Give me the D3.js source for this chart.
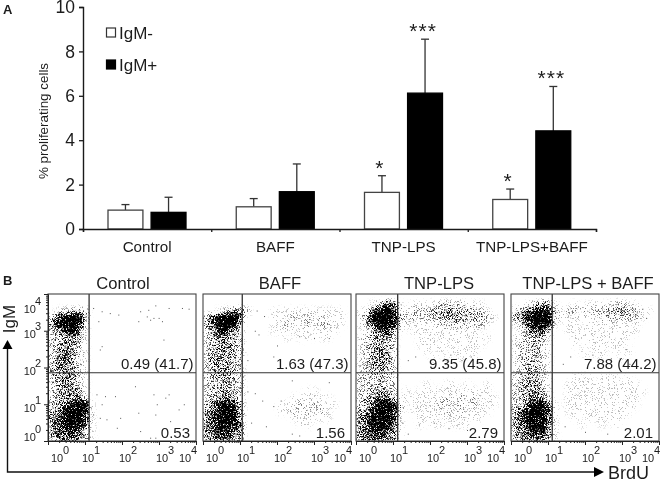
<!DOCTYPE html>
<html>
<head>
<meta charset="utf-8">
<script src="https://cdn.jsdelivr.net/npm/d3@7"></script>
<style>
  html, body { margin: 0; padding: 0; background: #fff; }
  svg { display: block; }
  text { font-family: "Liberation Sans", Arial, sans-serif; fill: #1a1a1a; opacity: 0.99; }
</style>
</head>
<body>
<svg id="chart" width="661" height="481"></svg>
<script>
// panel A
const categories = ['Control', 'BAFF', 'TNP-LPS', 'TNP-LPS+BAFF'];
const seriesNames = ['IgM-', 'IgM+'];
const igmNeg = [0.85, 1.0, 1.65, 1.33];
const igmPos = [0.75, 1.68, 6.12, 4.42];
const igmNegTop = [1.1, 1.37, 2.4, 1.8];
const igmPosTop = [1.43, 2.93, 8.55, 6.42];
const igmNegStars = ['', '', '*', '*'];
const igmPosStars = ['', '', '***', '***'];

// panel B, density rows (0 empty .. 9 black), top row first
const plotTitles = ['Control', 'BAFF', 'TNP-LPS', 'TNP-LPS + BAFF'];
const upperLabels = ['0.49 (41.7)', '1.63 (47.3)', '9.35 (45.8)', '7.88 (44.2)'];
const lowerLabels = ['0.53', '1.56', '2.79', '2.01'];
const gateX = [12.9, 11.5, 13.4, 13];
const gateY = 72;
const densityControl = ['', '', '0122320', '2699940', '4899820', '2378610', '2334310', '2344310', '2354210', '2454210', '2454210', '3454210',
  '2344210', '2344210', '2344310', '2344520', '3357981', '3489981', '4689961', '4589851', '4567531', '4566431'];
const densityBaff = ['', '', '0012442000111111111110', '3689950000111212121110', '3699930000112112122110', '2486420000111111111100',
  '2344320000001011011000', '2344320', '2344320', '2443320', '2344320', '2344320',
  '2333320', '2333220', '2334320000000001100000', '2345420000000111111000', '3479630000011121211100', '4589840000011212121000',
  '4689930000000111111000', '4589840000000011000000', '4577540', '4566540'];
const densityTnp = ['', '0012651011112222111000', '1158972122233443332100', '1389983222223343333210', '1269982111112222222100', '0135731011111111110000',
  '1234420001111111111100', '1233320001111111111000', '1235420000101011110000', '1244420000010101010000', '1244420', '1234320',
  '2223220', '2223220000100110100100', '2234320101111111111100', '2345531111111212121110', '2359973011112212121110', '3489972011111212111100',
  '4699971001111111111000', '4589861001011011100000', '4577641', '4566541'];
const densityTnpBaff = ['', '0012441001011112211000', '2347872122222233332110', '3479992111111222222100', '1259981011011111111000', '0135620011111111111000',
  '1233310001111111110000', '1223210001011111100000', '1223210000101101010000', '1233210000010100100000', '1233210', '1233210',
  '2233210001110111010000', '2334210011111111111000', '2344310011111111111100', '2345420011111111111000', '2368851011111111111000', '3579961011111111110000',
  '3689961001011111100000', '3589851000100101000000', '3467641', '3456541'];

// single events in the gated quadrants, [log BrdU, log IgM]
const dotsControl = [[1.67,3.48],[1.9,3.44],[1.45,3.53],[2.49,3.53],[2.71,3.57],[2.9,3.69],[2.67,3.39],[2.85,3.35],[2.76,3.3],[2.99,3.35],[3.08,3.26],[3.26,3.62],[3.62,3.62],[3.8,3.6],[3.12,2.76],[1.4,2.49],[1.45,2.58],[1.22,3.62],[2.44,3.26],[1.36,3.26],
  [1.31,1.27],[1.54,1.22],[1.81,1.22],[2.35,1.49],[2.85,1.27],[3.26,1.27],[2.94,1.0],[3.17,1.18],[3.53,0.86],[1.4,0.63],[1.22,0.72],[1.45,1.0],[1.58,0.59],[2.44,0.77],[1.95,0.63],[2.9,0.72],[2.9,0.09],[2.49,0.27],[1.86,0.36],[2.76,0.09],[3.3,0.54],[3.67,1.0]];
const dotsBaff = [[1.4,3.0],[1.45,3.55],[1.5,2.9],[2.0,2.6],[2.6,2.85],[3.0,2.8],[3.4,2.8],[1.2,2.2],[1.9,2.3],[1.65,3.4],[1.2,1.35],[1.4,1.3],[1.6,1.1],[1.9,0.95],[2.1,1.1],[2.4,0.2],[2.6,0.15],[1.3,0.5],[1.7,0.4],[3.4,1.6],[2.4,1.65]];
const dotsTnp = [[2.55,2.35],[2.7,2.05],[2.4,2.1],[1.4,2.2],[1.6,2.3],[2.0,2.15],[3.1,2.3],[2.85,2.2],[1.25,0.5],[1.7,0.45],[2.1,0.5],[2.5,0.35],[3.0,0.3],[1.4,0.2]];
const dotsTnpBaff = [[3.4,3.5],[3.55,3.6],[3.65,3.35],[3.3,3.6],[1.6,2.3],[2.2,2.35],[2.7,2.25],[3.1,2.5],[1.4,2.1],[3.2,2.1],[1.45,0.4],[2.0,0.25],[2.6,0.2]];
const axisTicks = [1, 10, 100, 1000, 10000];
const xLabelShift = [9, 3, 3, 3, -11];
const yLabelShift = [-4, 4, 3, 3, 15];

const densities = [densityControl, densityBaff, densityTnp, densityTnpBaff];
const dots = [dotsControl, dotsBaff, dotsTnp, dotsTnpBaff];
const plotLeft = [48, 203, 356, 511];
const plotSize = 148, plotTop = 294, gridN = 22;

const svg = d3.select('#chart');
const ink = '#1a1a1a';

svg.append('text').attr('x', 3).attr('y', 14).attr('font-size', 13).attr('font-weight', 'bold').text('A');
svg.append('text').attr('x', 3).attr('y', 285).attr('font-size', 13).attr('font-weight', 'bold').text('B');

// ---- bars
const x0 = d3.scaleBand().domain(categories).range([83, 596]);
const x1 = d3.scaleBand().domain(seriesNames).range([25, 103]).paddingInner(0.19);
const y = d3.scaleLinear().domain([0, 10]).range([229, 7]);
const bars = svg.append('g');

function drawSeries(name, vals, tops, stars, fill) {
  const g = bars.append('g');
  const cx = c => x0(c) + x1(name) + x1.bandwidth() / 2;
  categories.forEach((c, i) => {
    g.append('line').attr('x1', cx(c)).attr('x2', cx(c)).attr('y1', y(vals[i])).attr('y2', y(tops[i]))
      .attr('stroke', '#333').attr('stroke-width', 1.3);
    g.append('line').attr('x1', cx(c) - 4).attr('x2', cx(c) + 4).attr('y1', y(tops[i])).attr('y2', y(tops[i]))
      .attr('stroke', '#333').attr('stroke-width', 1.3);
    g.append('rect').attr('x', x0(c) + x1(name)).attr('width', x1.bandwidth())
      .attr('y', y(vals[i])).attr('height', y(0) - y(vals[i]))
      .attr('fill', fill).attr('stroke', fill === '#000' ? '#000' : '#444').attr('stroke-width', 1.3);
    if (stars[i]) {
      g.append('text').attr('x', cx(c) - 2).attr('y', y(tops[i]) - 1).attr('text-anchor', 'middle')
        .attr('font-size', 21).attr('letter-spacing', 1).text(stars[i]);
    }
  });
}
drawSeries('IgM-', igmNeg, igmNegTop, igmNegStars, '#fff');
drawSeries('IgM+', igmPos, igmPosTop, igmPosStars, '#000');

const yAxis = svg.append('g').attr('transform', 'translate(83,0)')
  .call(d3.axisLeft(y).tickValues([0, 2, 4, 6, 8, 10]).tickSize(4).tickPadding(4));
yAxis.selectAll('text').attr('font-size', 17.5);
const xEdges = d3.scaleLinear().domain([0, categories.length]).range([83, 596]);
svg.append('g').attr('transform', 'translate(0,229)')
  .call(d3.axisBottom(xEdges).ticks(4).tickSize(3).tickFormat(''));
svg.selectAll('.domain').attr('stroke', ink).attr('stroke-width', 1.4);
svg.selectAll('.tick line').attr('stroke', ink).attr('stroke-width', 1.3);

svg.selectAll('.cat').data(categories).join('text').attr('class', 'cat')
  .attr('x', d => x0(d) + x0.bandwidth() / 2).attr('y', 252)
  .attr('text-anchor', 'middle').attr('font-size', 15.2).text(d => d);

svg.append('text').attr('transform', 'translate(48,121) rotate(-90)')
  .attr('text-anchor', 'middle').attr('font-size', 13.4).text('% proliferating cells');

seriesNames.forEach((s, i) => {
  const ly = [28, 60][i];
  svg.append('rect').attr('x', 106.5).attr('y', ly).attr('width', 9).attr('height', 9)
    .attr('fill', i ? '#000' : '#fff').attr('stroke', i ? '#000' : '#333').attr('stroke-width', 1.2);
  svg.append('text').attr('x', 119).attr('y', ly + 11).attr('font-size', 17).text(s);
});

// ---- flow plots
const defs = svg.append('defs');

// turns the density alpha into stipple grain instead of a smooth grey
function stippleFilter(id, seed) {
  const f = defs.append('filter').attr('id', id).attr('x', 0).attr('y', 0).attr('width', '100%').attr('height', '100%')
    .attr('color-interpolation-filters', 'sRGB');
  f.append('feGaussianBlur').attr('in', 'SourceAlpha').attr('stdDeviation', 2.3).attr('result', 'dens');
  f.append('feTurbulence').attr('type', 'fractalNoise').attr('baseFrequency', 1.3).attr('numOctaves', 2).attr('seed', seed).attr('result', 'noise');
  f.append('feColorMatrix').attr('in', 'noise').attr('type', 'matrix')
    .attr('values', '0 0 0 0 0  0 0 0 0 0  0 0 0 0 0  2.2 0 0 0 -0.75').attr('result', 'grain');
  f.append('feComposite').attr('in', 'dens').attr('in2', 'grain').attr('operator', 'arithmetic')
    .attr('k1', 0).attr('k2', 2.6).attr('k3', -2.6).attr('k4', 0);
}

plotTitles.forEach((title, p) => {
  const left = plotLeft[p];
  const decX = d3.scaleLinear().domain([0, 4]).range([0, plotSize]);
  const decY = d3.scaleLinear().domain([0, 4]).range([plotSize - 1, 0]);
  const logX = d3.scaleLog().domain([1, 1e4]).range([0, plotSize]);
  const logY = d3.scaleLog().domain([1, 1e4]).range([plotSize - 1, 0]);
  const colBand = d3.scaleBand().domain(d3.range(gridN)).range([0, plotSize]);
  const rowBand = d3.scaleBand().domain(d3.range(gridN)).range([0, plotSize - 1]);

  const g = svg.append('g').attr('transform', `translate(${left},${plotTop})`);
  stippleFilter('grain' + p, p + 3);

  const inner = g.append('g');
  const cloud = inner.append('g').attr('filter', `url(#grain${p})`);
  densities[p].forEach((row, r) => {
    cloud.selectAll(null).data(row.padEnd(gridN, '0').split('').map(Number)).join('rect')
      .attr('x', (d, c) => colBand(c)).attr('y', rowBand(r))
      .attr('width', colBand.bandwidth() + 0.5).attr('height', rowBand.bandwidth() + 0.5)
      .attr('fill', '#000').attr('opacity', d => d === 1 ? 0.09 : d / 9);
  });
  inner.selectAll('.dot').data(dots[p]).join('rect').attr('class', 'dot')
    .attr('x', d => decX(d[0])).attr('y', d => decY(d[1]))
    .attr('width', 1).attr('height', 1).attr('fill', '#555');

  g.append('line').attr('x1', logX(gateX[p])).attr('x2', logX(gateX[p])).attr('y1', 0).attr('y2', plotSize - 1)
    .attr('stroke', '#222').attr('stroke-width', 1.2);
  g.append('line').attr('x1', 0).attr('x2', plotSize).attr('y1', logY(gateY)).attr('y2', logY(gateY))
    .attr('stroke', '#333').attr('stroke-width', 1.2);
  g.append('rect').attr('width', plotSize).attr('height', plotSize - 1)
    .attr('fill', 'none').attr('stroke', '#444').attr('stroke-width', 1.1);

  const bottom = g.append('g').attr('transform', `translate(0,${plotSize - 1})`)
    .call(d3.axisBottom(logX).tickSize(2).tickFormat(''));
  bottom.select('.domain').attr('stroke', '#222');
  bottom.selectAll('.tick line').attr('stroke', '#222')
    .attr('y2', d => axisTicks.includes(d) ? 4 : 2);

  axisTicks.forEach((t, i) => {
    g.append('text').attr('x', logX(t) + xLabelShift[i]).attr('y', plotSize + 20)
      .attr('text-anchor', 'middle').attr('font-size', 11).text('10');
    g.append('text').attr('x', logX(t) + xLabelShift[i] + 9).attr('y', plotSize + 12)
      .attr('text-anchor', 'middle').attr('font-size', 11).text(i);
  });

  if (p === 0) {
    const side = g.append('g').call(d3.axisLeft(logY).tickSize(2).tickFormat(''));
    side.select('.domain').attr('stroke', '#222');
    side.selectAll('.tick line').attr('stroke', '#222')
      .attr('x2', d => axisTicks.includes(d) ? -4 : -2);
    axisTicks.forEach((t, i) => {
      g.append('text').attr('x', -12).attr('y', logY(t) + yLabelShift[i] + 4)
        .attr('text-anchor', 'end').attr('font-size', 11).text('10');
      g.append('text').attr('x', -7).attr('y', logY(t) + yLabelShift[i] - 4)
        .attr('text-anchor', 'end').attr('font-size', 11).text(i);
    });
  }

  g.append('text').attr('x', plotSize / 2 + [1, 3, 9, 3][p]).attr('y', -5)
    .attr('text-anchor', 'middle').attr('font-size', 16.6).text(title);
  g.append('text').attr('x', plotSize - 2.5).attr('y', 75)
    .attr('text-anchor', 'end').attr('font-size', 15).attr('fill', '#333').text(upperLabels[p]);
  g.append('text').attr('x', plotSize - 6).attr('y', 144)
    .attr('text-anchor', 'end').attr('font-size', 15).attr('fill', '#333').text(lowerLabels[p]);
});

// ---- IgM / BrdU arrows
const arrowPath = d3.path();
arrowPath.moveTo(7.5, 348);
arrowPath.lineTo(7.5, 472);
arrowPath.lineTo(596, 472);
svg.append('path').attr('d', arrowPath.toString()).attr('fill', 'none').attr('stroke', '#111').attr('stroke-width', 1.4);
svg.append('path').attr('d', d3.line()([[7.5, 340], [12.5, 349], [2.5, 349]]) + 'Z').attr('fill', '#000');
svg.append('path').attr('d', d3.line()([[604, 472], [594, 467], [594, 477]]) + 'Z').attr('fill', '#000');
svg.append('text').attr('transform', 'translate(15,319) rotate(-90)').attr('text-anchor', 'middle').attr('font-size', 17).text('IgM');
svg.append('text').attr('x', 608).attr('y', 479).attr('font-size', 18).text('BrdU');
</script>
</body>
</html>
